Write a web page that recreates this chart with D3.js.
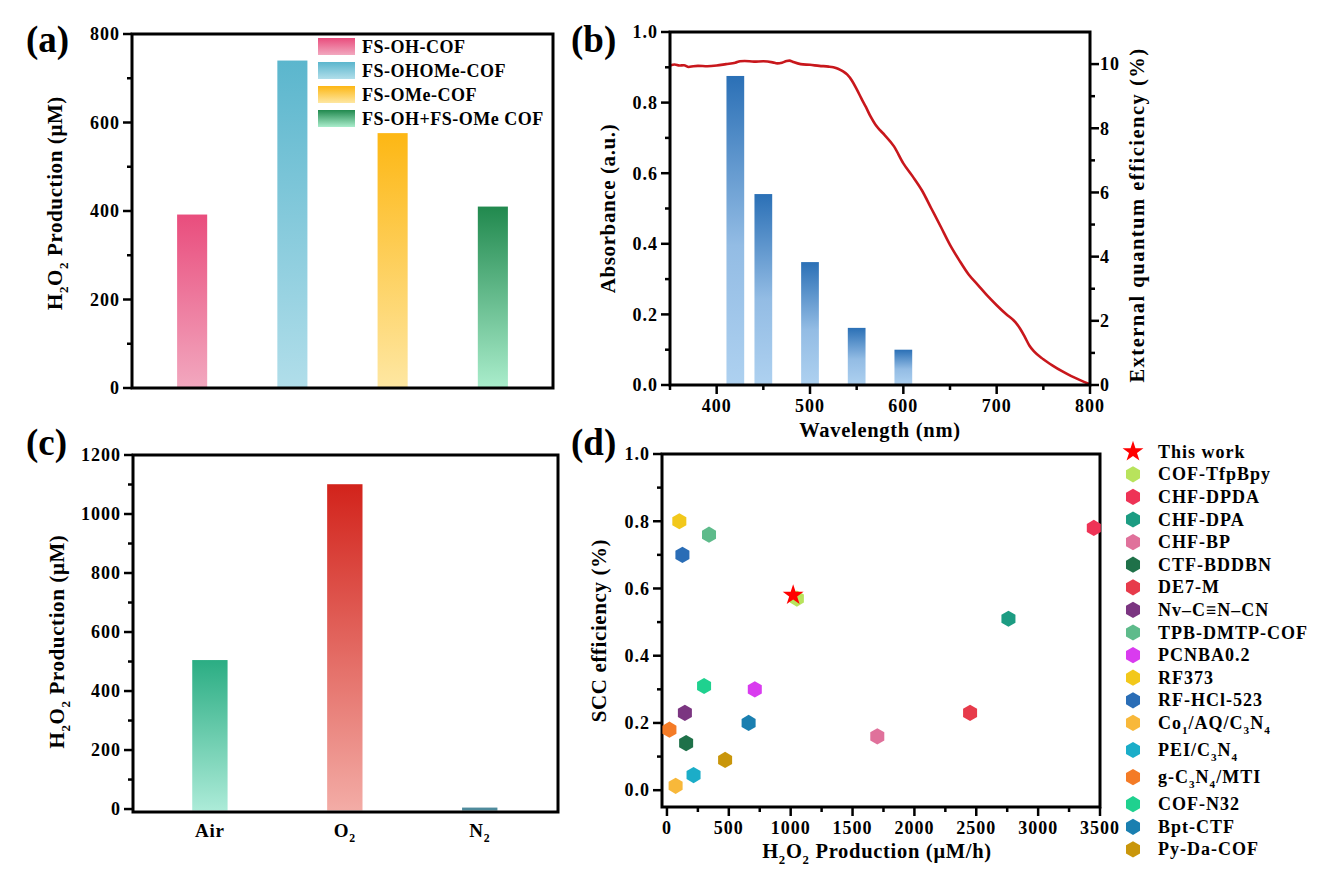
<!DOCTYPE html>
<html>
<head>
<meta charset="utf-8">
<script src="https://cdn.jsdelivr.net/npm/d3@7"></script>
<style>
  html, body { margin: 0; padding: 0; background: #fff; }
  svg text { font-family: "Liberation Serif", "Times New Roman", serif; font-weight: bold; fill: #000; }
</style>
</head>
<body>
<svg id="chart" width="1325" height="873"></svg>
<script>
// ---------------- DATA ----------------
// (a)
const aCategories = ["FS-OH-COF", "FS-OHOMe-COF", "FS-OMe-COF", "FS-OH+FS-OMe COF"];
const aValues = [392, 740, 576, 410];
const aTicks = [0, 200, 400, 600, 800];
// (b)
const bWavelengths = [420, 450, 500, 550, 600];
const bEQE = [9.63, 5.95, 3.83, 1.78, 1.1];
const absWavelength = [350,355,360,365,370,375,380,390,400,410,420,425,430,440,450,460,465,470,475,478,482,490,500,510,520,525,530,535,540,545,550,555,560,565,570,575,580,590,600,610,620,630,640,650,660,670,680,690,700,710,720,725,730,735,740,750,760,770,780,790,800];
const absValues = [0.905,0.908,0.905,0.906,0.901,0.903,0.904,0.903,0.905,0.909,0.913,0.917,0.918,0.916,0.917,0.914,0.911,0.913,0.918,0.919,0.915,0.909,0.907,0.904,0.902,0.900,0.896,0.889,0.879,0.862,0.838,0.812,0.787,0.760,0.738,0.722,0.708,0.676,0.628,0.591,0.551,0.500,0.449,0.397,0.353,0.313,0.283,0.253,0.226,0.201,0.178,0.160,0.137,0.112,0.095,0.073,0.055,0.039,0.025,0.013,0.002];
const bXTicks = [400, 500, 600, 700, 800];
const bYTicks = [0, 0.2, 0.4, 0.6, 0.8, 1.0];
const bY2Ticks = [0, 2, 4, 6, 8, 10];
// (c)
const cCategories = ["Air", "O_2", "N_2"];
const cValues = [505, 1101, 5];
const cTicks = [0, 200, 400, 600, 800, 1000, 1200];
// (d)
const dNames = ["This work","COF-TfpBpy","CHF-DPDA","CHF-DPA","CHF-BP","CTF-BDDBN","DE7-M","Nv\u2013C\u2261N\u2013CN","TPB-DMTP-COF","PCNBA0.2","RF373","RF-HCl-523","Co_1/AQ/C_3N_4","PEI/C_3N_4","g-C_3N_4/MTI","COF-N32","Bpt-CTF","Py-Da-COF"];
const dProduction = [1020, 1050, 3450, 2760, 1700, 155, 2450, 145, 340, 710, 100, 125, 70, 215, 20, 300, 660, 470];
const dSCC = [0.58, 0.57, 0.78, 0.51, 0.16, 0.14, 0.23, 0.23, 0.76, 0.30, 0.80, 0.70, 0.013, 0.045, 0.18, 0.31, 0.20, 0.09];
const dColors = ["#FF0000","#B8E35C","#EE3356","#1C9C82","#E0719B","#1F7149","#E73B4B","#7B3581","#5EBB8B","#D93BEF","#F2C81B","#2A6DB6","#F8B83A","#1BADC8","#F47B26","#1FD18F","#1A7FB0","#C9960B"];
const dXTicks = [0, 500, 1000, 1500, 2000, 2500, 3000, 3500];
const dYTicks = [0, 0.2, 0.4, 0.6, 0.8, 1.0];

// gradient colours (top, bottom)
const aGrad = [["#E94D7D","#F2A8BF"],["#5BB6CD","#B1DEEA"],["#FDB714","#FEE7A2"],["#21894E","#AAEDCC"]];
const cGrad = [["#2BAD83","#ACEBD8"],["#D2231B","#F3ACA6"],["#4F8B9C","#4F8B9C"]];

// ---------------- HELPERS ----------------
const svg = d3.select("#chart");
const defs = svg.append("defs");
const FONT_TICK = 18, FONT_TITLE = 20.5;

function gradient(id, stops) {
  const g = defs.append("linearGradient").attr("id", id)
    .attr("x1", 0).attr("y1", 0).attr("x2", 0).attr("y2", 1);
  stops.forEach(s => g.append("stop").attr("offset", s[0]).attr("stop-color", s[1]));
}
aGrad.forEach((c, i) => gradient("ga" + i, [[0, c[0]], [1, c[1]]]));
cGrad.forEach((c, i) => gradient("gc" + i, [[0, c[0]], [1, c[1]]]));
gradient("gb", [[0, "#2B70B6"], [0.55, "#93BCE4"], [1, "#AED1F0"]]);

// rich text: "_x" -> subscript x
function rich(textSel, str, size) {
  const parts = str.split(/(_.)/).filter(p => p.length);
  let shifted = false;
  parts.forEach(p => {
    if (p[0] === "_") {
      textSel.append("tspan").attr("dy", shifted ? 0 : size * 0.28).attr("font-size", size * 0.62).text(p[1]);
      shifted = true;
    } else {
      textSel.append("tspan").attr("dy", shifted ? -size * 0.28 : 0).text(p);
      shifted = false;
    }
  });
  return textSel;
}

function frame(g, w, h) {
  g.append("rect").attr("x", 0).attr("y", 0).attr("width", w).attr("height", h)
    .attr("fill", "none").attr("stroke", "#000").attr("stroke-width", 3);
}

function yAxisLeft(g, scale, majors, minors, fmt) {
  majors.forEach(v => {
    const y = scale(v);
    g.append("line").attr("x1", -9).attr("x2", 0).attr("y1", y).attr("y2", y).attr("stroke", "#000").attr("stroke-width", 2.5);
    g.append("text").attr("x", -12).attr("y", y).attr("dy", "0.35em").attr("text-anchor", "end")
      .attr("font-size", FONT_TICK).attr("letter-spacing", 1).text(fmt(v));
  });
  minors.forEach(v => {
    const y = scale(v);
    g.append("line").attr("x1", -5).attr("x2", 0).attr("y1", y).attr("y2", y).attr("stroke", "#000").attr("stroke-width", 2.5);
  });
}
function yAxisRight(g, scale, w, majors, minors, fmt) {
  majors.forEach(v => {
    const y = scale(v);
    g.append("line").attr("x1", w).attr("x2", w + 9).attr("y1", y).attr("y2", y).attr("stroke", "#000").attr("stroke-width", 2.5);
    g.append("text").attr("x", w + 10).attr("y", y).attr("dy", "0.35em").attr("text-anchor", "start")
      .attr("font-size", FONT_TICK).attr("letter-spacing", 1).text(fmt(v));
  });
  minors.forEach(v => {
    const y = scale(v);
    g.append("line").attr("x1", w).attr("x2", w + 5).attr("y1", y).attr("y2", y).attr("stroke", "#000").attr("stroke-width", 2.5);
  });
}
function xAxisBottom(g, scale, h, majors, minors, fmt) {
  majors.forEach(v => {
    const x = scale(v);
    g.append("line").attr("x1", x).attr("x2", x).attr("y1", h).attr("y2", h + 9).attr("stroke", "#000").attr("stroke-width", 2.5);
    g.append("text").attr("x", x).attr("y", h + 27).attr("text-anchor", "middle")
      .attr("font-size", FONT_TICK).attr("letter-spacing", 1).text(fmt(v));
  });
  minors.forEach(v => {
    const x = scale(v);
    g.append("line").attr("x1", x).attr("x2", x).attr("y1", h).attr("y2", h + 5).attr("stroke", "#000").attr("stroke-width", 2.5);
  });
}
function yTitle(g, x, y, str, size) {
  const t = g.append("text").attr("transform", `translate(${x},${y}) rotate(-90)`)
    .attr("text-anchor", "middle").attr("font-size", size).attr("letter-spacing", 0.6);
  rich(t, str, size);
}
function panelLabel(x, y, s) {
  svg.append("text").attr("x", x).attr("y", y).attr("font-size", 37).text(s);
}
function range(a, b, s) { const r = []; for (let v = a; v <= b + 1e-9; v += s) r.push(+v.toFixed(6)); return r; }

// hexagon symbol (pointy top)
const hexagon = {
  draw(ctx, size) {
    const r = Math.sqrt(size / (1.5 * Math.sqrt(3)));
    for (let i = 0; i < 6; i++) {
      const a = Math.PI / 2 + i * Math.PI / 3;
      const px = r * Math.cos(a), py = r * Math.sin(a);
      if (i === 0) ctx.moveTo(px, py); else ctx.lineTo(px, py);
    }
    ctx.closePath();
  }
};

// ---------------- PANEL (a) ----------------
{
  const L = 132, T = 34, W = 421, H = 354;
  const g = svg.append("g").attr("transform", `translate(${L},${T})`);
  const x = d3.scaleLinear().domain([0.4, 4.6]).range([0, W]);
  const y = d3.scaleLinear().domain([0, 800]).range([H, 0]);
  const bw = x(1.3) - x(1.0);
  g.selectAll("rect.bar").data(aValues).join("rect").attr("class", "bar")
    .attr("x", (d, i) => x(i + 1) - bw / 2).attr("width", bw)
    .attr("y", d => y(d)).attr("height", d => y(0) - y(d))
    .attr("fill", (d, i) => `url(#ga${i})`);
  frame(g, W, H);
  yAxisLeft(g, y, aTicks, [100, 300, 500, 700], d3.format("d"));
  yTitle(g, -70, H / 2 - 8, "H_2O_2 Production (\u03BCM)", 21);
  const lg = g.append("g").attr("transform", `translate(${318 - L},${38 - T})`);
  aCategories.forEach((c, i) => {
    lg.append("rect").attr("x", 0).attr("y", i * 24).attr("width", 37).attr("height", 17).attr("fill", `url(#ga${i})`);
    lg.append("text").attr("x", 44).attr("y", i * 24 + 14.5).attr("font-size", 18).attr("letter-spacing", 0.5).text(c);
  });
}
panelLabel(26, 52, "(a)");

// ---------------- PANEL (b) ----------------
{
  const L = 670, T = 32, W = 420, H = 353;
  const g = svg.append("g").attr("transform", `translate(${L},${T})`);
  const x = d3.scaleLinear().domain([350, 800]).range([0, W]);
  const y = d3.scaleLinear().domain([0, 1]).range([H, 0]);
  const y2 = d3.scaleLinear().domain([0, 11]).range([H, 0]);
  const bw = x(369) - x(350);
  g.selectAll("rect.bar").data(bEQE).join("rect").attr("class", "bar")
    .attr("x", (d, i) => x(bWavelengths[i]) - bw / 2).attr("width", bw)
    .attr("y", d => y2(d)).attr("height", d => y2(0) - y2(d))
    .attr("fill", "url(#gb)");
  const line = d3.line().x((d, i) => x(absWavelength[i])).y(d => y(d)).curve(d3.curveMonotoneX);
  g.append("path").datum(absValues).attr("d", line).attr("fill", "none")
    .attr("stroke", "#C8171C").attr("stroke-width", 2.6);
  frame(g, W, H);
  yAxisLeft(g, y, bYTicks, range(0.1, 0.9, 0.2), d3.format(".1f"));
  yAxisRight(g, y2, W, bY2Ticks, [1, 3, 5, 7, 9], d3.format("d"));
  xAxisBottom(g, x, H, bXTicks, [350, 450, 550, 650, 750], d3.format("d"));
  yTitle(g, -55, H / 2, "Absorbance (a.u.)", 21);
  g.append("text").attr("transform", `translate(${W + 54},${183}) rotate(-90)`)
    .attr("text-anchor", "middle").attr("font-size", 20.5).attr("letter-spacing", 1.5).text("External quantum efficiency (%)");
  g.append("text").attr("x", x(575)).attr("y", H + 52).attr("text-anchor", "middle")
    .attr("font-size", FONT_TITLE).attr("letter-spacing", 0.7).text("Wavelength (nm)");
}
panelLabel(571, 52, "(b)");

// ---------------- PANEL (c) ----------------
{
  const L = 133, T = 455, W = 425, H = 357;
  const g = svg.append("g").attr("transform", `translate(${L},${T})`);
  const x = d3.scaleLinear().domain([0.43, 3.58]).range([0, W]);
  const y = d3.scaleLinear().domain([-10, 1200]).range([H, 0]);
  const bw = x(1.262) - x(1.0);
  g.selectAll("rect.bar").data(cValues).join("rect").attr("class", "bar")
    .attr("x", (d, i) => x(i + 1) - bw / 2).attr("width", bw)
    .attr("y", d => y(d)).attr("height", d => y(-10) - y(d) - 1.5)
    .attr("fill", (d, i) => `url(#gc${i})`);
  frame(g, W, H);
  yAxisLeft(g, y, cTicks, range(100, 1100, 200), d3.format("d"));
  cCategories.forEach((c, i) => {
    const t = g.append("text").attr("x", x(i + 1)).attr("y", H + 25).attr("text-anchor", "middle")
      .attr("font-size", FONT_TICK + 1).attr("letter-spacing", 0.8);
    rich(t, c, FONT_TICK + 1);
  });
  yTitle(g, -69, H / 2 + 8, "H_2O_2 Production (\u03BCM)", 21);
}
panelLabel(26, 455, "(c)");

// ---------------- PANEL (d) ----------------
{
  const L = 662, T = 454, W = 438, H = 353;
  const g = svg.append("g").attr("transform", `translate(${L},${T})`);
  const x = d3.scaleLinear().domain([-40, 3500]).range([0, W]);
  const y = d3.scaleLinear().domain([-0.05, 1.0]).range([H, 0]);
  frame(g, W, H);
  yAxisLeft(g, y, dYTicks, range(0.1, 0.9, 0.2), d3.format(".1f"));
  xAxisBottom(g, x, H, dXTicks, range(250, 3250, 500), d3.format("d"));
  const order = d3.range(dNames.length).slice(1).concat([0]);
  order.forEach(i => {
    const sym = i === 0 ? d3.symbol().type(d3.symbolStar).size(135) : d3.symbol().type(hexagon).size(170);
    g.append("path").attr("d", sym()).attr("transform", `translate(${x(dProduction[i])},${y(dSCC[i])})`)
      .attr("fill", dColors[i]);
  });
  yTitle(g, -56, H / 2, "SCC efficiency (%)", 21);
  const t = g.append("text").attr("x", W / 2 - 4).attr("y", H + 51).attr("text-anchor", "middle")
    .attr("font-size", FONT_TITLE).attr("letter-spacing", 0.7);
  rich(t, "H_2O_2 Production (\u03BCM/h)", FONT_TITLE);
  const lg = svg.append("g");
  let yy = 451.7;
  dNames.forEach((n, i) => {
    if (i > 0) yy += 22.6 + (dNames[i - 1].includes("_") ? 4.5 : 0);
    const sym = i === 0 ? d3.symbol().type(d3.symbolStar).size(135) : d3.symbol().type(hexagon).size(170);
    lg.append("path").attr("d", sym()).attr("transform", `translate(1133,${yy})`).attr("fill", dColors[i]);
    const tt = lg.append("text").attr("x", 1158).attr("y", yy + 6).attr("font-size", 18).attr("letter-spacing", 1);
    rich(tt, n, 18);
  });
}
panelLabel(571, 455, "(d)");
</script>
</body>
</html>
